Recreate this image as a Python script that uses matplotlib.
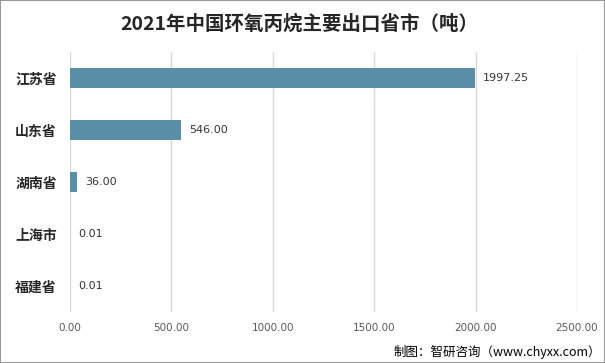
import matplotlib.pyplot as plt
from matplotlib.patches import Rectangle

plt.rcParams['font.family'] = ['Noto Sans CJK SC', 'DejaVu Sans']

provinces = ['江苏省', '山东省', '湖南省', '上海市', '福建省']
values = [1997.25, 546.00, 36.00, 0.01, 0.01]
labels = ['1997.25', '546.00', '36.00', '0.01', '0.01']
xticks = [0, 500, 1000, 1500, 2000, 2500]

fig = plt.figure(figsize=(6.05, 3.63), dpi=100)
ax = fig.add_axes([70 / 605, 1 - 312 / 363, 507 / 605, 260 / 363])

pos = list(range(len(provinces)))
ax.barh(pos, values, height=0.37, color='#5B8FA8', zorder=2)
for p, v, t in zip(pos, values, labels):
    ax.text(v + 40, p, t, va='center', ha='left', fontsize=8, color='#333333',
            family=['DejaVu Sans'])

ax.set_xlim(0, 2500)
ax.set_ylim(4.5, -0.5)
ax.set_xticks(xticks)
ax.set_xticklabels(['%.2f' % x for x in xticks], fontsize=7.5, color='#595959',
                   family=['DejaVu Sans'])
ax.set_yticks(pos)
ax.set_yticklabels(provinces, fontsize=10, fontweight='bold', color='#262626')
ax.tick_params(axis='both', length=0)
ax.tick_params(axis='x', pad=8)
ax.tick_params(axis='y', pad=9.5)
ax.xaxis.grid(True, color='#D9D9D9', linewidth=1, zorder=0)
for s in ax.spines.values():
    s.set_visible(False)

fig.text(299 / 605, 1 - 24 / 363, '2021年中国环氧丙烷主要出口省市（吨）', ha='center', va='center',
         fontsize=14, fontweight='bold', color='#262626')
fig.text(0.993, 1 - 352 / 363, '制图：智研咨询（www.chyxx.com）', ha='right', va='center',
         fontsize=9, color='#000000')
fig.patches.append(Rectangle((0, 0), 1, 1, transform=fig.transFigure, fill=False,
                             edgecolor='#999999', linewidth=1.5))

fig.savefig('out.png', dpi=100)
